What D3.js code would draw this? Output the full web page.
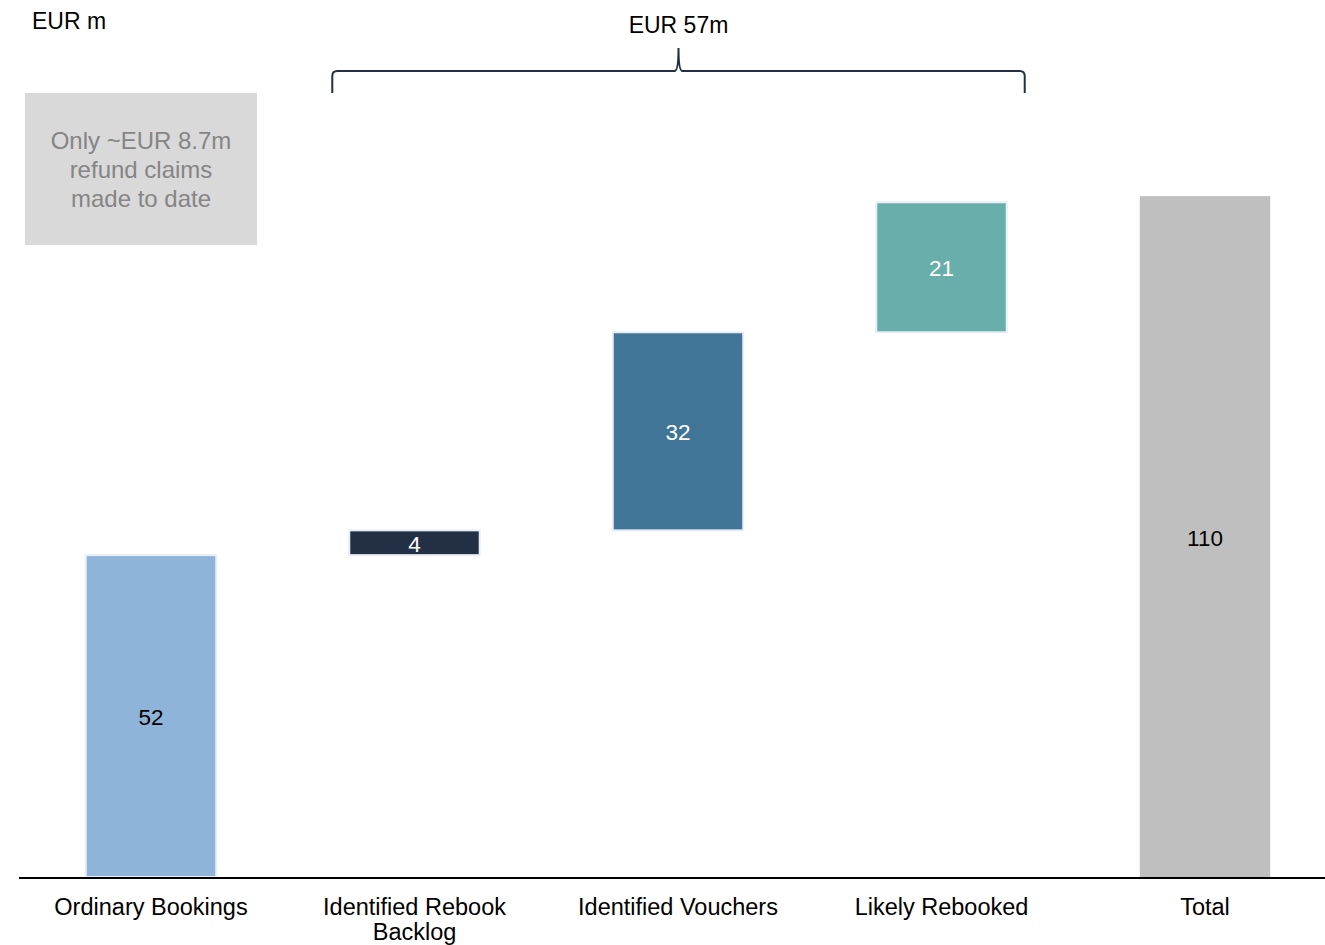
<!DOCTYPE html>
<html>
<head>
<meta charset="utf-8">
<script src="https://cdn.jsdelivr.net/npm/d3@7"></script>
<style>
  html, body { margin: 0; padding: 0; background: #ffffff; }
  svg { display: block; font-family: "Liberation Sans", Arial, sans-serif; }
</style>
</head>
<body>
<svg id="chart" width="1325" height="945"></svg>
<script>
// Waterfall steps (EUR m)
const categories = ["Ordinary Bookings", "Identified Rebook Backlog", "Identified Vouchers", "Likely Rebooked", "Total"];
const values = [52, 4, 32, 21, 110];
const kinds = ["start", "step", "step", "step", "total"];
const barColors = ["#8fb4d9", "#232f44", "#417597", "#68aeaa", "#bfbfbf"];
const labelColors = ["#000000", "#ffffff", "#ffffff", "#ffffff", "#000000"];
const unitLabel = "EUR m";
const braceLabel = "EUR 57m";
const noteLines = ["Only ~EUR 8.7m", "refund claims", "made to date"];

const svg = d3.select("#chart");
const W = 1325, H = 945;
const baseY = 877;

// Build floating segments: each step starts where the previous one ended
let running = 0;
const bars = categories.map((c, i) => {
  let y0, y1;
  if (kinds[i] === "total") { y0 = 0; y1 = values[i]; }
  else { y0 = running; y1 = running + values[i]; running = y1; }
  return { cat: c, value: values[i], y0, y1, color: barColors[i], lc: labelColors[i], kind: kinds[i] };
});

const x = d3.scaleBand().domain(categories).range([19.25, 1336.75]).padding(0);
const y = d3.scaleLinear().domain([0, 110]).range([baseY, baseY - 110 * 6.19]);
const barW = x.bandwidth() * 0.495;
const cx = c => x(c) + x.bandwidth() / 2;

// Bars
svg.append("g").selectAll("rect").data(bars).join("rect")
  .attr("x", d => cx(d.cat) - barW / 2)
  .attr("width", barW)
  .attr("y", d => y(d.y1))
  .attr("height", d => y(d.y0) - y(d.y1))
  .attr("fill", d => d.color)
  .attr("stroke", d => d.kind === "total" ? "none" : "#e8eef5")
  .attr("stroke-width", 2);

// Value labels inside bars
svg.append("g").selectAll("text").data(bars).join("text")
  .attr("x", d => cx(d.cat))
  .attr("y", d => (y(d.y0) + y(d.y1)) / 2)
  .attr("dy", "0.4em")
  .attr("text-anchor", "middle")
  .attr("font-size", 22.5)
  .attr("fill", d => d.lc)
  .text(d => d3.format("d")(d.value));

// Baseline axis with category labels
const axis = d3.axisBottom(x).tickSize(0).tickPadding(0);
const gx = svg.append("g").attr("transform", `translate(0,${baseY + 1})`).call(axis);
gx.select(".domain").attr("d", `M19,0H${W}`).attr("stroke", "#000").attr("stroke-width", 2.2);
gx.selectAll(".tick text")
  .attr("font-size", 23.5)
  .attr("font-family", "\"Liberation Sans\", Arial, sans-serif")
  .attr("fill", "#000")
  .attr("y", 37)
  .attr("dy", 0)
  .each(function(d) {
    const t = d3.select(this);
    const words = d.split(" ");
    t.text(null);
    let line = [];
    let lineNo = 0;
    let tspan = t.append("tspan").attr("x", 0).attr("y", 37);
    words.forEach(w => {
      line.push(w);
      tspan.text(line.join(" "));
      if (tspan.node().getComputedTextLength() > 240 && line.length > 1) {
        line.pop();
        tspan.text(line.join(" "));
        line = [w];
        lineNo++;
        tspan = t.append("tspan").attr("x", 0).attr("y", 37 + lineNo * 25).text(w);
      }
    });
  });

// Unit label
svg.append("text").attr("x", 32).attr("y", 29).attr("font-size", 23).attr("fill", "#000").text(unitLabel);

// Note box
svg.append("rect").attr("x", 25).attr("y", 93).attr("width", 232).attr("height", 152).attr("fill", "#d9d9d9");
svg.append("g").selectAll("text").data(noteLines).join("text")
  .attr("x", 141)
  .attr("y", (d, i) => 149 + i * 29)
  .attr("text-anchor", "middle")
  .attr("font-size", 24)
  .attr("fill", "#858585")
  .text(d => d);

// Curly brace spanning the three step bars
const bx0 = cx(categories[1]) - barW / 2 - 17;
const bx1 = cx(categories[3]) + barW / 2 + 18;
const bmid = (bx0 + bx1) / 2;
const byLine = 71, byEnd = 93, byTip = 48, r = 5;
const bracePath = [
  `M${bx0},${byEnd}`,
  `V${byLine + r}`,
  `Q${bx0},${byLine} ${bx0 + r},${byLine}`,
  `H${bmid - 4}`,
  `Q${bmid},${byLine} ${bmid},${byTip}`,
  `Q${bmid},${byLine} ${bmid + 4},${byLine}`,
  `H${bx1 - r}`,
  `Q${bx1},${byLine} ${bx1},${byLine + r}`,
  `V${byEnd}`
].join(" ");
svg.append("path").attr("d", bracePath).attr("fill", "none").attr("stroke", "#232f44").attr("stroke-width", 2);
svg.append("text").attr("x", bmid).attr("y", 33).attr("text-anchor", "middle").attr("font-size", 23).attr("fill", "#000").text(braceLabel);
</script>
</body>
</html>
